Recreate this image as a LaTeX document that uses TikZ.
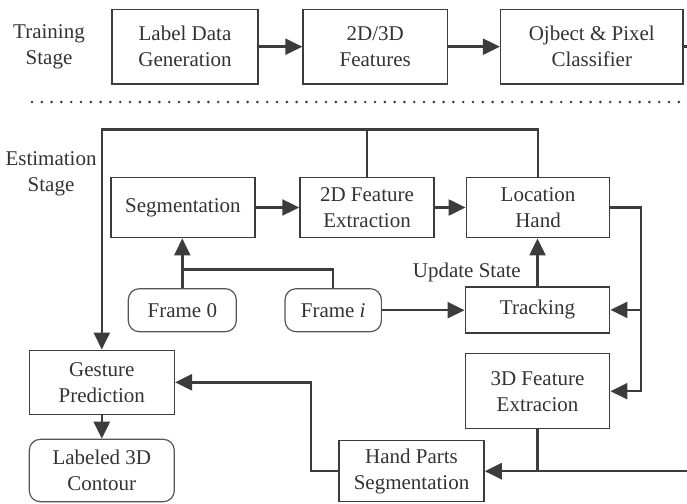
\documentclass[tikz,border=0pt]{standalone}
\usepackage{fontspec}
\setmainfont{Liberation Serif}
\usetikzlibrary{arrows.meta}
\definecolor{ln}{HTML}{3C3C3C}
\definecolor{tx}{HTML}{333333}
\definecolor{rb}{HTML}{555555}
\begin{document}
\begin{tikzpicture}[x=1pt,y=-1pt,
  txt/.style={font=\fontsize{21}{26}\selectfont, text=tx, align=center, inner sep=0pt},
  box/.style={txt, draw=ln, line width=1.5pt},
  rbox/.style={box, rounded corners=11pt, line width=1.2pt, draw=rb},
  conn/.style={draw=ln, line width=2.4pt},
  arr/.style={conn, -{Triangle[length=17pt,width=16pt]}},
  dotline/.style={draw=ln, line width=2.9pt, dash pattern=on 0pt off 9.8pt, line cap=round}
]
\useasboundingbox (0,0) rectangle (687,503);

% labels
\node[txt] (train) at (49,47) {Training\\Stage};
\node[txt] (est) at (51,174) {Estimation\\Stage};

% training row
\node[box, minimum width=146pt, minimum height=74.7pt] (lbl) at (185,46.7) {Label Data\\Generation};
\node[box, minimum width=144.3pt, minimum height=74.7pt] (feat) at (375.2,46.7) {2D/3D\\Features};
\node[box, minimum width=182.3pt, minimum height=74.7pt] (cls) at (591.8,46.7) {Ojbect \& Pixel\\Classifier};

% estimation
\node[box, minimum width=144.3pt, minimum height=60.4pt] (seg) at (182.9,207.5) {Segmentation};
\node[box, minimum width=134pt, minimum height=60.4pt] (f2d) at (367,207.5) {2D Feature\\Extraction};
\node[box, minimum width=143.4pt, minimum height=60.4pt] (loc) at (538,207.5) {Location\\Hand};
\node[rbox, minimum width=108pt, minimum height=43pt] (frame0) at (182.3,310.2) {Frame 0};
\node[rbox, minimum width=96.3pt, minimum height=43pt] (framei) at (333.2,310.2) {Frame \textit{i}};
\node[box, minimum width=144.4pt, minimum height=45.7pt] (trk) at (537.5,309.9) {Tracking};
\node[box, minimum width=145pt, minimum height=64pt] (ges) at (101.8,382.3) {Gesture\\Prediction};
\node[rbox, minimum width=145pt, minimum height=62.4pt] (lab) at (101.8,470.5) {Labeled 3D\\Contour};
\node[box, minimum width=144.4pt, minimum height=75pt] (f3d) at (537.5,391.2) {3D Feature\\Extracion};
\node[box, minimum width=145pt, minimum height=61pt] (hps) at (411.5,471.2) {Hand Parts\\Segmentation};
\node[txt, anchor=east] (upd) at (521,272.7) {Update State};

% coordinates
\coordinate (clsout) at (687,46.7);
\coordinate (dl) at (32,102);
\coordinate (dr) at (687,102);
\coordinate (topl) at (0,129.3);
\coordinate (fj) at (0,269.3);
\coordinate (rx) at (640.7,0);
\coordinate (br) at (687,470);
\coordinate (lx) at (310.7,0);

% training connectors
\draw[arr] (lbl) -- (feat);
\draw[arr] (feat) -- (cls);
\draw[conn] (cls.east) -- (clsout);
\draw[dotline] (dl) -- (dr);

% feedback loop
\draw[arr] (loc.north) |- (ges.north |- topl) -- (ges.north);
\draw[conn] (f2d.north) -- (f2d.north |- topl);

% estimation connectors
\draw[arr] (seg) -- (f2d);
\draw[arr] (f2d) -- (loc);
\draw[arr] (frame0.north) -- (frame0.north |- seg.south);
\draw[conn] (framei.north) |- (frame0.north |- fj);
\draw[arr] (framei.east) -- (framei.east -| trk.west);
\draw[arr] (trk.north) -- (trk.north |- loc.south);
\draw[arr] (loc.east) -| (rx |- f3d.east) -- (f3d.east);
\draw[arr] (rx |- trk.east) -- (trk.east);
\draw[arr] (br |- hps.east) -- (hps.east);
\draw[conn] (f3d.south) -- (f3d.south |- hps.east);
\draw[arr] (hps.west) -| (lx |- ges.east) -- (ges.east);
\draw[arr] (ges) -- (lab);
\end{tikzpicture}
\end{document}
